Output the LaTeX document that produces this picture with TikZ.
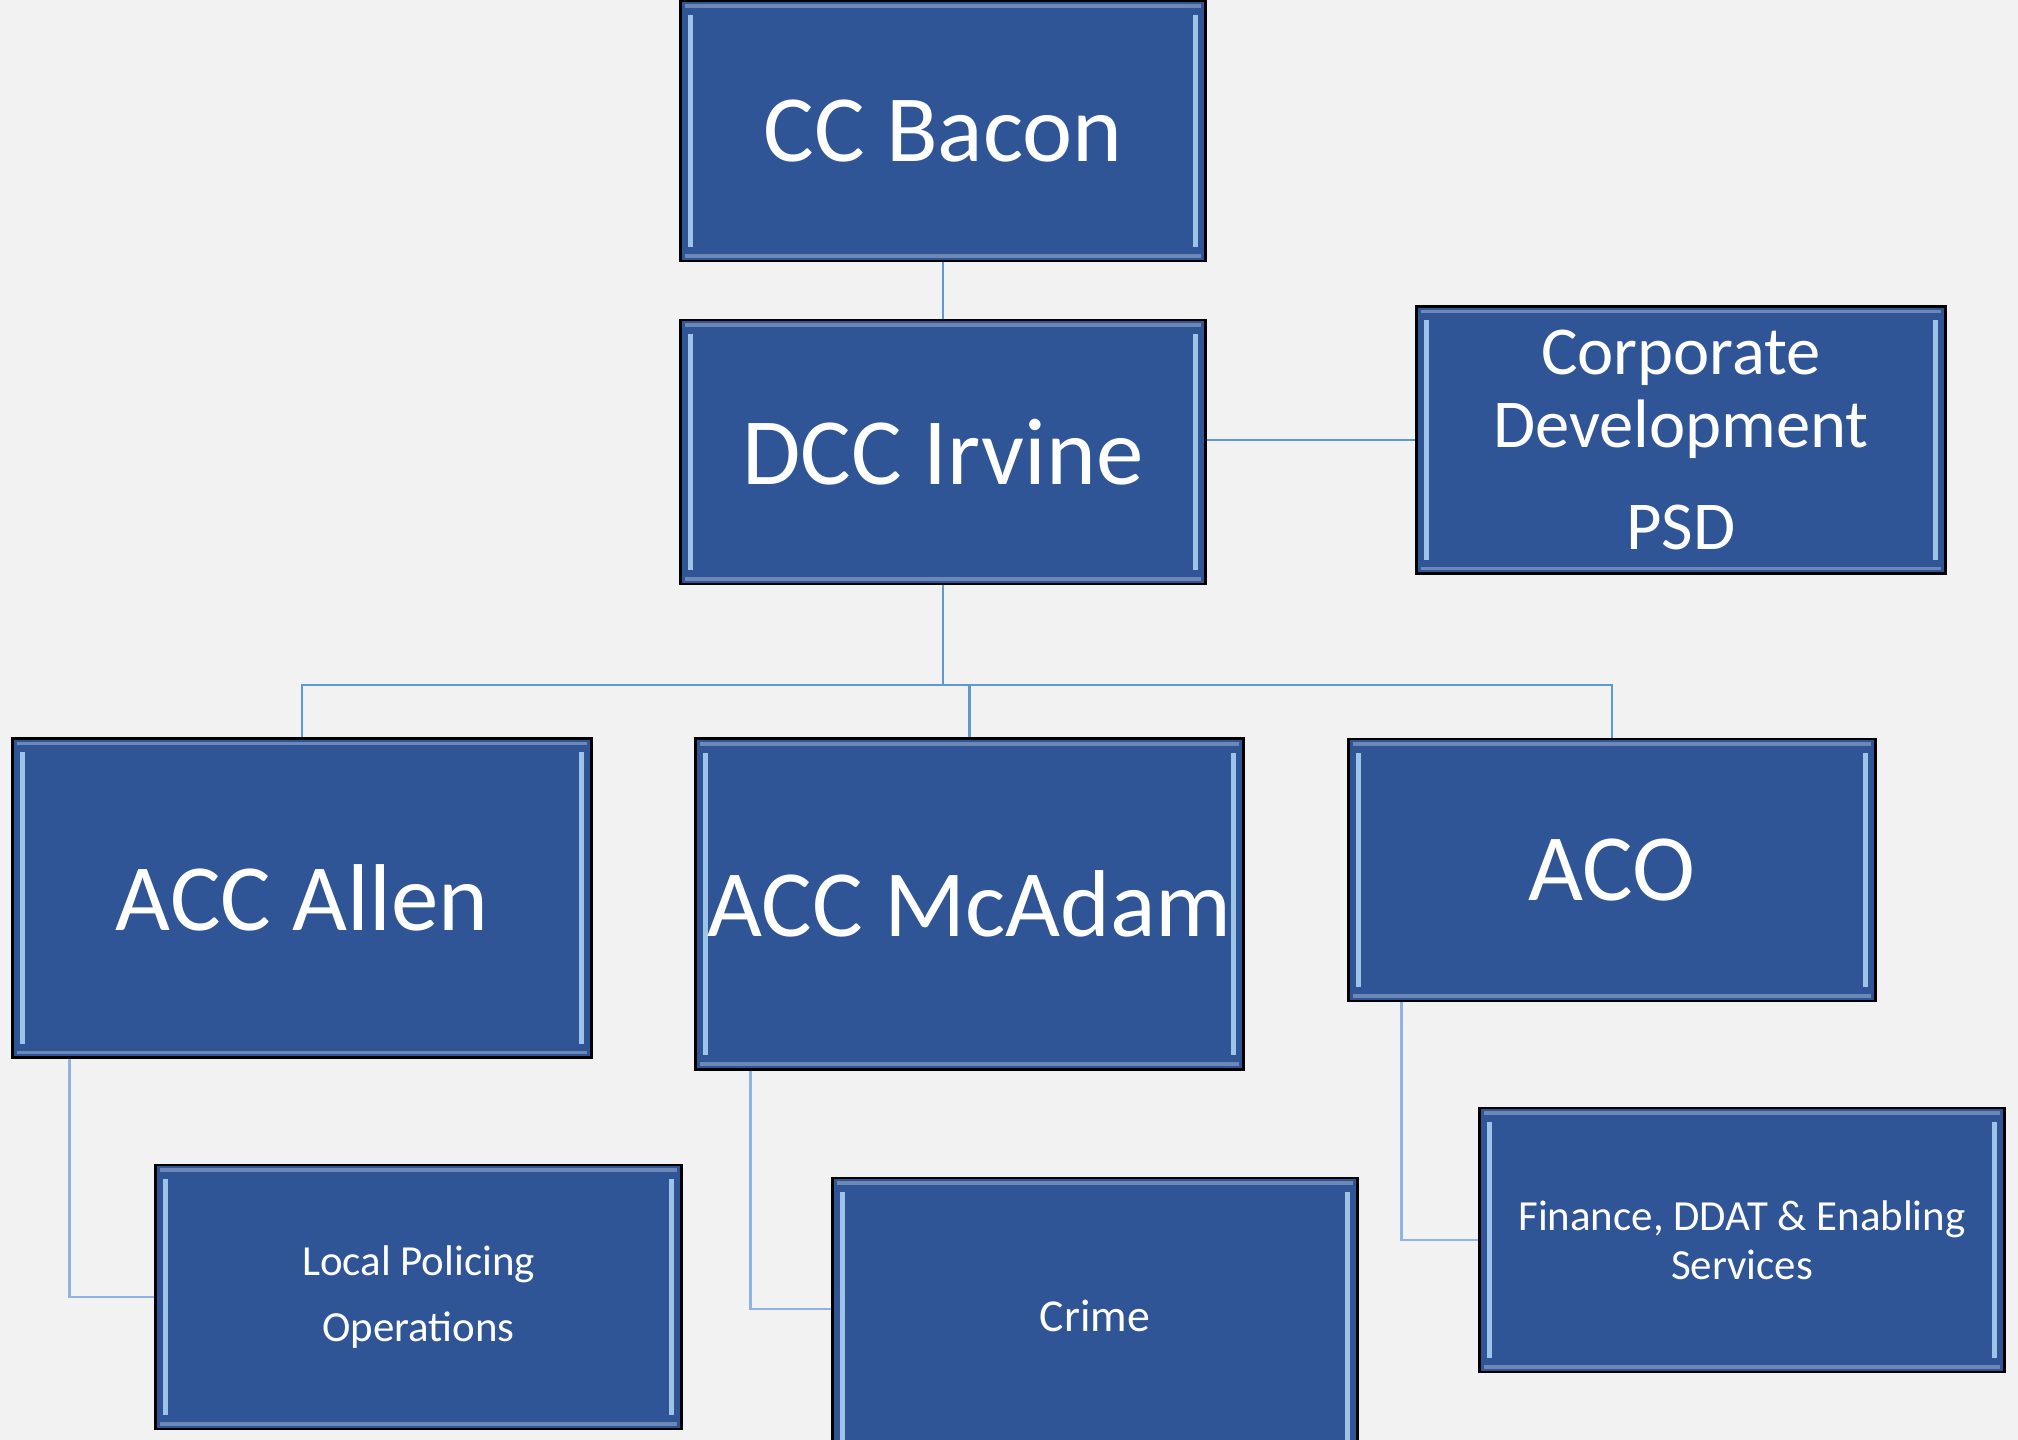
\documentclass[tikz,border=0pt]{standalone}
\usepackage{fontspec}
\setmainfont{Carlito}
\usepackage{xcolor}
\usetikzlibrary{calc}
\definecolor{bgpage}{HTML}{F2F2F2}
\definecolor{boxblue}{HTML}{2F5597}
\definecolor{bevellight}{HTML}{9DC3E6}
\definecolor{linkblue}{HTML}{5B9BD5}
\definecolor{sublinkblue}{HTML}{8FB4E3}

\begin{document}
\begin{tikzpicture}[x=0.01cm,y=-0.01cm,
    box/.style={draw=black,line width=0.8pt,fill=boxblue,text=white,align=center,
      inner sep=0pt,minimum width=#1,
      path picture={
        \draw[bevellight,line width=1.4pt]
          ($(path picture bounding box.north west)+(10,14)$) -- ($(path picture bounding box.south west)+(10,-14)$)
          ($(path picture bounding box.north east)+(-10,14)$) -- ($(path picture bounding box.south east)+(-10,-14)$);
        \draw[boxblue!70!white,line width=1pt]
          ($(path picture bounding box.north west)+(4,5)$) -- ($(path picture bounding box.north east)+(-4,5)$)
          ($(path picture bounding box.south west)+(4,-5)$) -- ($(path picture bounding box.south east)+(-4,-5)$);}},
    box/.default=5.24cm,
    big/.style={font=\fontsize{27}{30}\selectfont},
    small/.style={font=\fontsize{12.2}{13.8}\selectfont},
    link/.style={linkblue,line width=0.7pt},
    sublink/.style={sublinkblue,line width=0.7pt}]
  \fill[bgpage] (0,0) rectangle (2018,1440);
  \useasboundingbox (0,0) rectangle (2018,1440);

  \node[box,big,minimum height=2.6cm] (bacon) at (943,131) {CC Bacon};
  \node[box,big,minimum height=2.64cm] (irvine) at (943,452) {DCC Irvine};
  \node[box=5.28cm,minimum height=2.67cm,font=\fontsize{19.5}{20.5}\selectfont] (corp) at (1681,440)
    {Corporate\\Development\\[8.5pt]PSD};
  \node[box=5.78cm,big,minimum height=3.19cm] (allen) at (302,898) {ACC Allen};
  \node[box=5.47cm,big,minimum height=3.30cm] (mcadam) at (969.5,904) {ACC McAdam};
  \node[box=5.26cm,big,minimum height=2.62cm] (aco) at (1612,870) {ACO};
  \node[box=5.25cm,small,minimum height=2.64cm] (local) at (418.5,1297) {Local Policing\\[4.8pt]Operations};
  \node[box,font=\fontsize{13}{15}\selectfont,minimum height=2.76cm] (crime) at (1095,1316) {Crime};
  \node[box,small,minimum height=2.64cm] (fin) at (1742,1240) {Finance, DDAT \& Enabling\\Services};

  \coordinate (bus) at (943,685);
  \draw[link] (bacon) -- (irvine);
  \draw[link] (irvine.east |- corp.west) -- (corp.west);
  \draw[link] (irvine.south) -- (irvine.south |- bus);
  \draw[link] (allen.north) -- (allen.north |- bus) -| (aco.north);
  \draw[link] (mcadam.north) -- (mcadam.north |- bus);
  \draw[sublink] ($(allen.south west)+(58,0)$) |- (local.west);
  \draw[sublink] ($(mcadam.south west)+(56,0)$) |- ($(crime.west)+(0,-7)$);
  \draw[sublink] ($(aco.south west)+(54,0)$) |- (fin.west);
\end{tikzpicture}
\end{document}
